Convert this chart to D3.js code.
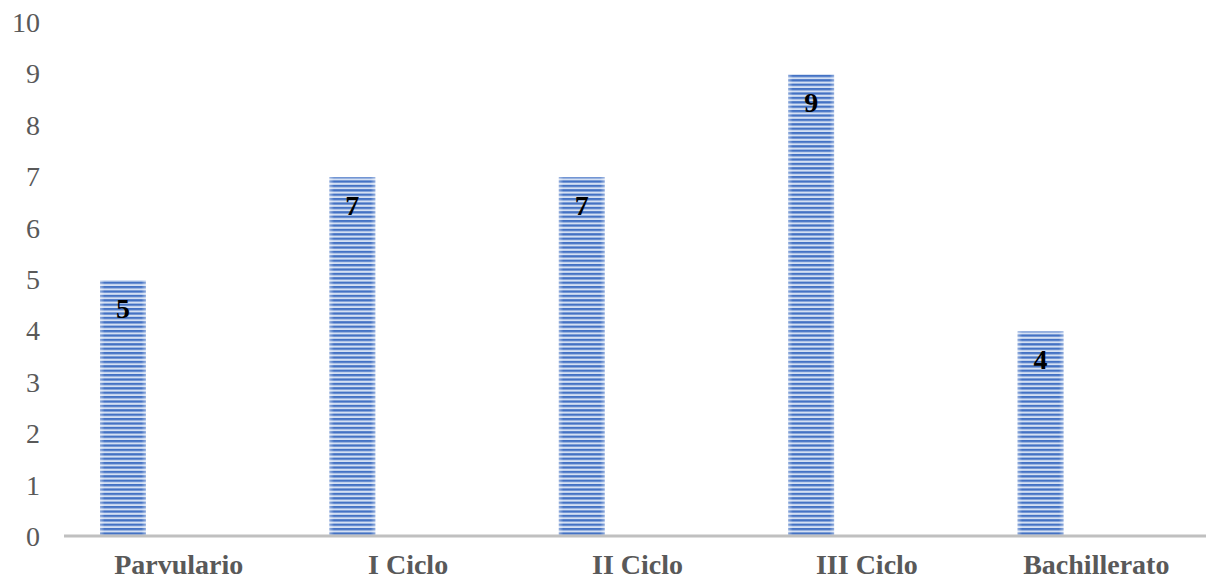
<!DOCTYPE html>
<html lang="es">
<head>
    <meta charset="UTF-8">
    <title>Niveles</title>
    <script src="https://d3js.org/d3.v7.min.js"></script>
    <style>
        body {
            margin: 0;
            background: #fff;
        }
        svg {
            display: block;
            font-family: "Liberation Serif", "Times New Roman", serif;
        }
        .tick-label {
            font-size: 28px;
            fill: #595959;
        }
        .cat-label {
            font-size: 28px;
            font-weight: bold;
            fill: #595959;
        }
        .value-label {
            font-size: 28px;
            font-weight: bold;
            fill: #000;
        }
    </style>
</head>
<body>
    <svg id="chart" width="1206" height="580"></svg>
    <script>
        // Data
        const categories = ["Parvulario", "I Ciclo", "II Ciclo", "III Ciclo", "Bachillerato"];
        const values = [5, 7, 7, 9, 4];
        const yTicks = [0, 1, 2, 3, 4, 5, 6, 7, 8, 9, 10];

        const svg = d3.select("#chart");

        // Scales
        const x = d3.scaleBand()
            .domain(categories)
            .range([64, 1211]);

        const y = d3.scaleLinear()
            .domain([0, 10])
            .range([537, 23]);

        // Striped fill for the bars
        const defs = svg.append("defs");
        const pat = defs.append("pattern")
            .attr("id", "stripes")
            .attr("patternUnits", "userSpaceOnUse")
            .attr("width", 8)
            .attr("height", 4.4);
        pat.append("rect").attr("width", 8).attr("height", 4.4).attr("fill", "#d4e0f3");
        pat.append("rect").attr("y", 0).attr("width", 8).attr("height", 2.3).attr("fill", "#4472c4");

        const grad = defs.append("linearGradient")
            .attr("id", "edge")
            .attr("x1", "0").attr("x2", "1").attr("y1", "0").attr("y2", "0");
        grad.append("stop").attr("offset", "0").attr("stop-color", "#fff").attr("stop-opacity", 0.4);
        grad.append("stop").attr("offset", "0.1").attr("stop-color", "#fff").attr("stop-opacity", 0);
        grad.append("stop").attr("offset", "0.9").attr("stop-color", "#fff").attr("stop-opacity", 0);
        grad.append("stop").attr("offset", "1").attr("stop-color", "#fff").attr("stop-opacity", 0.4);

        // Y tick labels
        svg.append("g")
            .selectAll("text")
            .data(yTicks)
            .join("text")
            .attr("class", "tick-label")
            .attr("x", 40)
            .attr("y", d => y(d))
            .attr("dy", "0.32em")
            .attr("text-anchor", "end")
            .text(d => d);

        // Bars
        const barOffset = x.bandwidth() * 0.157;
        const barWidth = x.bandwidth() * 0.2;

        const bars = svg.append("g")
            .selectAll("g")
            .data(categories)
            .join("g");

        bars.append("rect")
            .attr("x", (d) => x(d) + barOffset)
            .attr("y", (d, i) => y(values[i]))
            .attr("width", barWidth)
            .attr("height", (d, i) => y(0) - y(values[i]))
            .attr("fill", "url(#stripes)");

        bars.append("rect")
            .attr("x", (d) => x(d) + barOffset)
            .attr("y", (d, i) => y(values[i]))
            .attr("width", barWidth)
            .attr("height", (d, i) => y(0) - y(values[i]))
            .attr("fill", "url(#edge)");

        // Value labels
        bars.append("text")
            .attr("class", "value-label")
            .attr("x", d => x(d) + barOffset + barWidth / 2)
            .attr("y", (d, i) => y(values[i]) + 38)
            .attr("text-anchor", "middle")
            .text((d, i) => values[i]);

        // X axis line
        svg.append("line")
            .attr("x1", 64)
            .attr("x2", 1206)
            .attr("y1", y(0) - 1)
            .attr("y2", y(0) - 1)
            .attr("stroke", "#c0c0c0")
            .attr("stroke-width", 3);

        // Category labels
        svg.append("g")
            .selectAll("text")
            .data(categories)
            .join("text")
            .attr("class", "cat-label")
            .attr("x", d => x(d) + x.bandwidth() / 2)
            .attr("y", 574)
            .attr("text-anchor", "middle")
            .text(d => d);
    </script>
</body>
</html>
